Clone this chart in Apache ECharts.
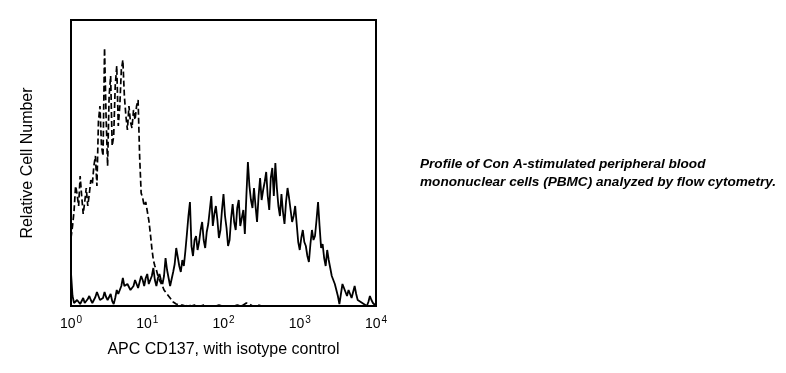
<!DOCTYPE html>
<html>
<head>
<meta charset="utf-8">
<script src="https://cdn.jsdelivr.net/npm/echarts@6/dist/echarts.min.js"></script>
<style>
html,body{margin:0;padding:0;background:#fff;}
#chart{width:786px;height:373px;}
</style>
</head>
<body>
<div id="chart"></div>
<script>
// Histogram channels: one value per 0.02 decade, from 10^0 to 10^4
const logStep = 0.02;
const decadeTicks = [0, 1, 2, 3, 4];
const xAxisTitle = 'APC CD137, with isotype control';
const yAxisTitle = 'Relative Cell Number';
const noteLines = [
  'Profile of Con A-stimulated peripheral blood',
  'mononuclear cells (PBMC) analyzed by flow cytometry.'
];

// APC CD137 stained cells (solid line)
const cd137 = [
  33,10,3,2,6,5,2,4,8,3,4,7,10,6,3,5,9,14,12,6,
  4,8,14,9,6,9,12,5,2,8,16,12,10,20,28,20,18,22,24,16,
  14,20,26,22,18,24,30,26,20,28,32,22,24,30,38,26,20,28,32,26,
  22,30,48,36,28,20,22,34,42,58,49,40,34,46,40,55,72,90,104,60,
  50,66,70,56,64,76,84,66,58,74,82,96,110,80,92,100,86,68,76,96,
  112,90,78,60,66,88,102,84,76,98,106,80,88,96,72,110,144,120,106,98,
  118,100,84,110,128,106,116,124,134,110,96,128,138,110,143,118,100,90,112,94,
  82,104,118,108,96,84,90,100,82,64,56,68,76,64,60,50,44,62,76,66,
  70,86,104,80,58,62,48,40,56,46,38,30,28,22,20,10,2,12,22,18,
  14,10,16,12,8,14,20,12,6,4,4,3,2,1,0,4,10,6,3,1,
  0
];

// Isotype control (dashed line)
const isotype = [
  68,80,95,120,112,100,130,110,92,104,118,100,112,126,122,140,150,120,185,200,
  160,150,258,190,140,210,230,160,170,220,240,180,200,236,246,210,190,176,200,184,
  178,196,186,200,206,150,113,108,100,104,95,86,73,58,46,40,36,30,26,24,
  20,16,14,12,10,8,6,4,3,2,1,1,2,1,1,0,0,1,1,0,
  2,1,0,0,1,0,0,1,1,0,0,0,1,0,0,0,0,1,1,0,
  0,0,0,0,1,0,0,0,0,1,2,0,0,1,1,3,5,2,1,0,
  0,0,0,1,1,0,0,0,0,0,0,0,1,0,0,0,0,0,0,0,
  0,0,1,0,0,0,0,0,0,0,0,0,0,0,1,0,0,0,0,0,
  0,0,0,0,0,0,0,0,1,0,0,0,0,0,0,0,0,0,0,0,
  0,0,0,0,0,0,0,0,0,0,1,0,0,0,0,0,0,0,0,0,
  0
];

const toPairs = arr => arr.map((v, i) => [i * logStep, v]);

const chart = echarts.init(document.getElementById('chart'), null, {renderer: 'canvas'});
const font = '"Liberation Sans", Arial, sans-serif';

chart.setOption({
  backgroundColor: '#ffffff',
  animation: false,
  grid: {
    left: 71, right: 410, top: 20, bottom: 67,
    show: true, borderColor: '#000', borderWidth: 2, backgroundColor: 'transparent',
    outerBoundsMode: 'none'
  },
  xAxis: {
    type: 'value',
    min: decadeTicks[0],
    max: decadeTicks[decadeTicks.length - 1],
    interval: 1,
    axisLine: {show: false},
    axisTick: {show: false},
    splitLine: {show: false},
    axisLabel: {
      margin: 9,
      formatter: v => '{b|10}{s|' + v + '}',
      rich: {
        b: {fontFamily: font, fontSize: 14, color: '#000', verticalAlign: 'bottom', lineHeight: 16},
        s: {fontFamily: font, fontSize: 10, color: '#000', verticalAlign: 'top', lineHeight: 16, padding: [0, 0, 0, 1]}
      }
    },
    name: xAxisTitle,
    nameLocation: 'middle',
    nameGap: 36,
    nameTextStyle: {fontFamily: font, fontSize: 16, color: '#000'}
  },
  yAxis: {
    type: 'value',
    min: 0,
    max: 286,
    axisLine: {show: false},
    axisTick: {show: false},
    axisLabel: {show: false},
    splitLine: {show: false},
    name: yAxisTitle,
    nameLocation: 'middle',
    nameGap: 35,
    nameTextStyle: {fontFamily: font, fontSize: 16, color: '#000'}
  },
  series: [
    {
      type: 'line',
      name: 'Isotype control',
      data: toPairs(isotype),
      showSymbol: false,
      lineStyle: {color: '#000', width: 1.7, type: [6, 3]},
      z: 2
    },
    {
      type: 'line',
      name: 'APC CD137',
      data: toPairs(cd137),
      showSymbol: false,
      lineStyle: {color: '#000', width: 1.8, type: 'solid'},
      z: 3
    }
  ],
  graphic: [
    {
      type: 'text',
      left: 420,
      top: 155,
      style: {
        text: noteLines.join('\n'),
        font: 'italic bold 13.6px "Liberation Sans", Arial, sans-serif',
        fill: '#000',
        lineHeight: 18
      }
    }
  ]
});
</script>
</body>
</html>
